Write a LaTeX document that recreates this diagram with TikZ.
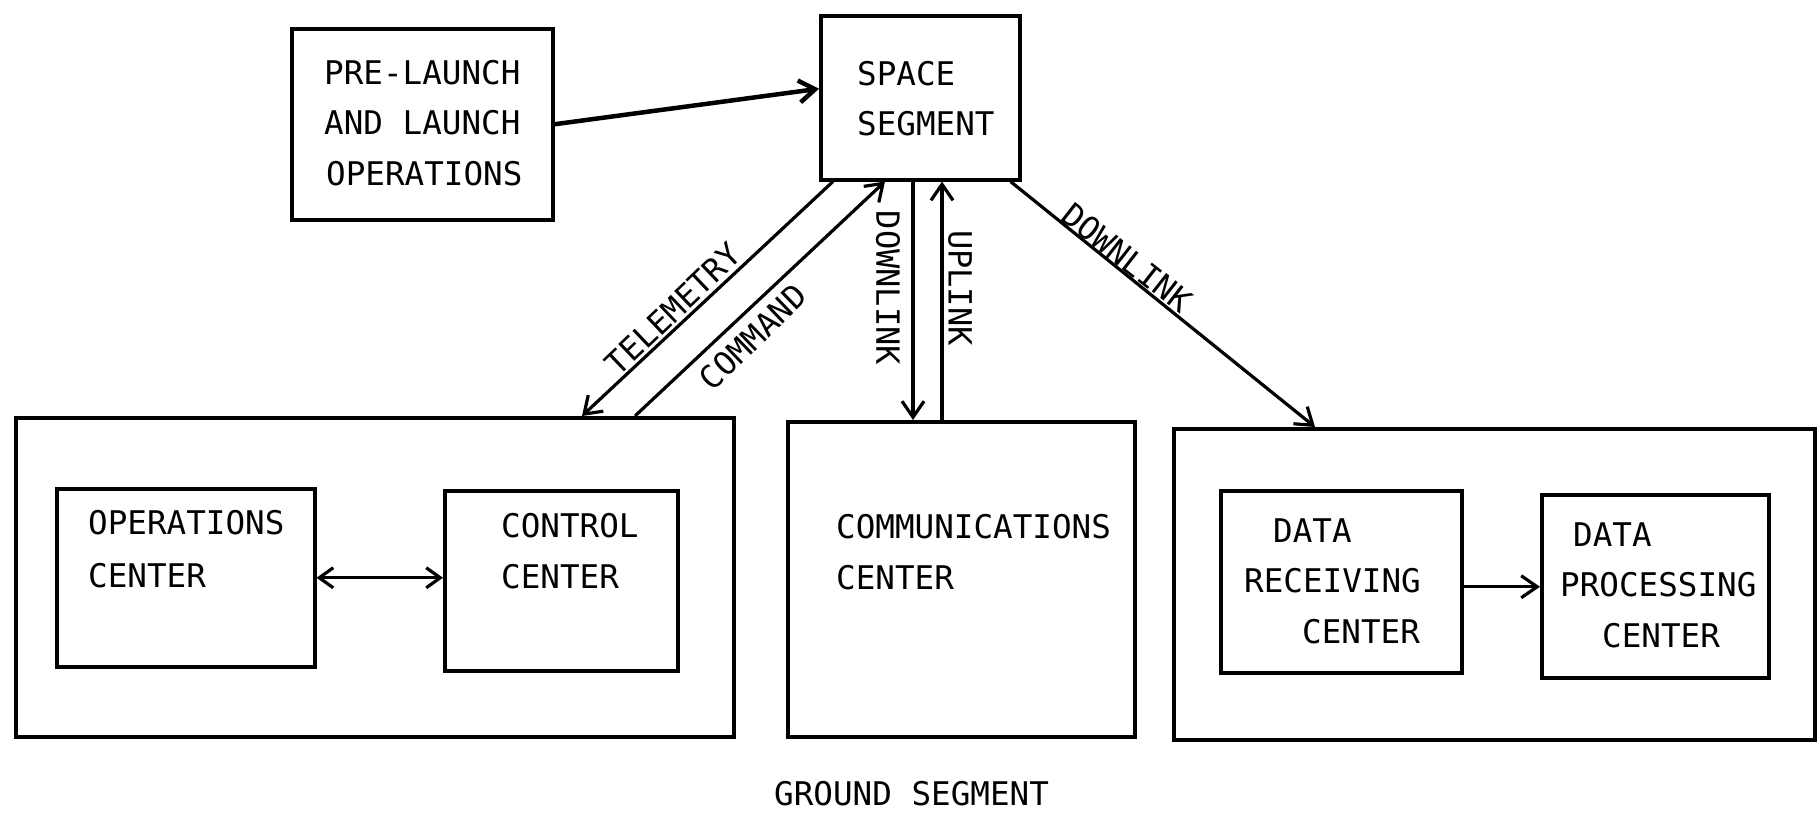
\documentclass[tikz,border=0pt]{standalone}
\usepackage{fontspec}
\setmonofont{DejaVu Sans Mono}
\usetikzlibrary{arrows.meta}
\tikzset{
  box/.style={draw, line width=3.5pt, inner sep=0pt, anchor=north west},
  lbl/.style={font=\ttfamily\fontsize{32.6}{40}\selectfont, inner sep=0pt, anchor=base west},
  tag/.style={font=\ttfamily\fontsize{32}{40}\selectfont, inner sep=0pt},
  link/.style={line width=3.2pt},
  tip/.style={-{Straight Barb[length=16pt,width=22pt]}},
  both/.style={{Straight Barb[length=14pt,width=20pt]}-{Straight Barb[length=14pt,width=20pt]}}
}
\begin{document}
\begin{tikzpicture}[x=1pt,y=-1pt]
\fill[white] (0,0) rectangle (1820,814);
\useasboundingbox (0,0) rectangle (1820,814);

% blocks
\node[box, minimum width=261pt, minimum height=191pt] (pre)   at (290,27)  {};
\node[box, minimum width=199pt, minimum height=164pt] (space) at (819,14)  {};
\node[box, minimum width=718pt, minimum height=319pt] (gl)    at (14,416)  {};
\node[box, minimum width=258pt, minimum height=178pt] (ops)   at (55,487)  {};
\node[box, minimum width=233pt, minimum height=180pt] (ctl)   at (443,489) {};
\node[box, minimum width=347pt, minimum height=315pt] (comm)  at (786,420) {};
\node[box, minimum width=641pt, minimum height=311pt] (gr)    at (1172,427) {};
\node[box, minimum width=241pt, minimum height=182pt] (rcv)   at (1219,489) {};
\node[box, minimum width=227pt, minimum height=183pt] (proc)  at (1540,493) {};

% block texts
\node[lbl] (pre1) at (324,84)  {PRE-LAUNCH};
\node[lbl] (pre2) at (324,134) {AND LAUNCH};
\node[lbl] (pre3) at (326,185) {OPERATIONS};
\node[lbl] (sp1)  at (857,85)  {SPACE};
\node[lbl] (sp2)  at (857,135) {SEGMENT};
\node[lbl] (op1)  at (88,534)  {OPERATIONS};
\node[lbl] (op2)  at (88,587)  {CENTER};
\node[lbl] (ct1)  at (501,537) {CONTROL};
\node[lbl] (ct2)  at (501,588) {CENTER};
\node[lbl] (cm1)  at (836,538) {COMMUNICATIONS};
\node[lbl] (cm2)  at (836,589) {CENTER};
\node[lbl] (rc1)  at (1273,542) {DATA};
\node[lbl] (rc2)  at (1244,592) {RECEIVING};
\node[lbl] (rc3)  at (1302,643) {CENTER};
\node[lbl] (pr1)  at (1573,546) {DATA};
\node[lbl] (pr2)  at (1560,596) {PROCESSING};
\node[lbl] (pr3)  at (1602,647) {CENTER};
\node[lbl] (gs)   at (774,805) {GROUND SEGMENT};

% connectors
\draw[link, tip, line width=4.5pt] (pre.east) -- ([yshift=9pt]space.west);
\draw[link, tip] ([xshift=14pt]space.south west) -- ([xshift=568pt]gl.north west);
\draw[link, tip] ([xshift=621pt]gl.north west) -- ([xshift=66pt]space.south west);
\draw[link, tip] ([xshift=94pt]space.south west) -- ([xshift=127pt]comm.north west);
\draw[link, tip] ([xshift=156pt]comm.north west) -- ([xshift=123pt]space.south west);
\draw[link, tip] ([xshift=-11pt]space.south east) -- ([xshift=143pt]gr.north west);
\draw[link, both] (ops.east) -- (ops.east -| ctl.west);
\draw[link, tip] ([yshift=-5pt]rcv.east) -- ([yshift=-5pt]rcv.east -| proc.west);

% link labels
\node[tag, rotate=43.6] (tel) at (673,309) {TELEMETRY};
\node[tag, rotate=44]   (cmd) at (753,337) {COMMAND};
\node[tag, rotate=-90]  (dl1) at (888,288) {DOWNLINK};
\node[tag, rotate=-90]  (ul)  at (960,288) {UPLINK};
\node[tag, rotate=-38]  (dl2) at (1127,258) {DOWNLINK};
\end{tikzpicture}
\end{document}
